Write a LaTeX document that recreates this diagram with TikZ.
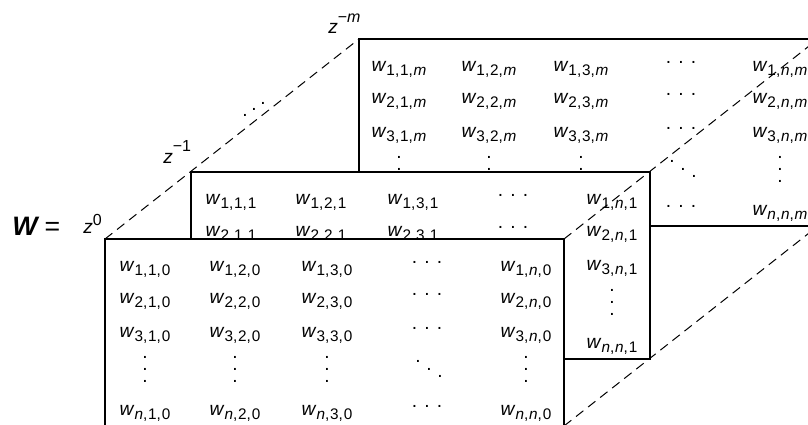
\documentclass[tikz,border=0pt]{standalone}
\usepackage{fontspec}
\setmainfont{Liberation Sans}

% entry w_{i,j,k} and delay labels z^{k}
\newcommand{\wsub}[3]{\textit{w}\raisebox{-3.7pt}{\fontsize{11.5}{12}\selectfont #1,\kern0.6pt#2,\kern0.6pt#3}}
\newcommand{\zsup}[2]{\textit{z}\raisebox{#2}{\fontsize{12}{13}\selectfont #1}}
% dots
\newcommand{\cdotsw}{\raisebox{6pt}{.\kern5.4pt.\kern5.4pt.}}
\newcommand{\vdotsw}{\vbox{\baselineskip=9pt\lineskiplimit=-20pt\hbox{.}\hbox{.}\hbox{.}}}
\newcommand{\ddotsw}{\raisebox{11pt}{.}\kern4.2pt\raisebox{5.5pt}{.}\kern4.2pt.}
\newcommand{\udotsw}{.\kern2.8pt\raisebox{4.5pt}{.}\kern2.8pt\raisebox{9pt}{.}}

\tikzset{
  entry/.style={inner sep=0pt, anchor=base, font=\fontsize{14.4}{17}\selectfont},
  dotentry/.style={inner sep=0pt, font=\fontsize{14.4}{17}\selectfont},
  layer/.style={draw, fill=white, line width=1pt, anchor=north west, inner sep=0pt,
    outer sep=0pt, minimum width=344.25pt, minimum height=140.25pt},
  depth/.style={dash pattern=on 7pt off 4.5pt, line width=0.75pt},
}

\begin{document}
\begin{tikzpicture}[x=0.75pt, y=-0.75pt]
    \useasboundingbox (0,0) rectangle (808,425);
    \clip (0,0) rectangle (808,425);

    % z^{-m}
    \begin{scope}[shift={(359,39)}]
        \node[layer] (back) at (0,0) {};
        \foreach \ir/\ri/\y in {1/1/32,2/2/64,3/3/98}
            \foreach \jc/\cj/\x in {1/1/40,2/2/130,3/3/222,n/{\textit{n}}/421}
                \node[entry] (back-\ir-\jc) at (\x,\y) {\wsub{\ri}{\cj}{\textit{m}}};
        \node[entry] (back-n-n) at (421,176) {\wsub{\textit{n}}{\textit{n}}{\textit{m}}};
        \foreach \ir/\y in {1/32,2/64,3/98,n/176}
            \node[entry] (back-\ir-d) at (322,\y) {\cdotsw};
        \foreach \jc/\x in {1/40,2/130,3/222,n/421}
            \node[dotentry] (back-v-\jc) at (\x,130) {\vdotsw};
        \node[dotentry] (back-v-d) at (324,130) {\ddotsw};
    \end{scope}

    % z^{-1}
    \begin{scope}[shift={(191,172)}]
        \node[layer] (mid) at (0,0) {};
        \foreach \ir/\ri/\y in {1/1/32,2/2/64}
            \foreach \jc/\cj/\x in {1/1/40,2/2/130,3/3/222,n/{\textit{n}}/421}
                \node[entry] (mid-\ir-\jc) at (\x,\y) {\wsub{\ri}{\cj}{1}};
        \foreach \ir/\ri/\y in {3/3/98,n/{\textit{n}}/176}
            \node[entry] (mid-\ir-n) at (421,\y) {\wsub{\ri}{\textit{n}}{1}};
        \foreach \ir/\y in {1/32,2/64}
            \node[entry] (mid-\ir-d) at (322,\y) {\cdotsw};
        \node[dotentry] (mid-v-n) at (421,130) {\vdotsw};
    \end{scope}

    % z^0
    \begin{scope}[shift={(105,239)}]
        \node[layer] (front) at (0,0) {};
        \foreach \ir/\ri/\y in {1/1/32,2/2/64,3/3/98,n/{\textit{n}}/176} {
            \foreach \jc/\cj/\x in {1/1/40,2/2/130,3/3/222,n/{\textit{n}}/421}
                \node[entry] (front-\ir-\jc) at (\x,\y) {\wsub{\ri}{\cj}{0}};
            \node[entry] (front-\ir-d) at (322,\y) {\cdotsw};
        }
        \foreach \jc/\x in {1/40,2/130,3/222,n/421}
            \node[dotentry] (front-v-\jc) at (\x,130) {\vdotsw};
        \node[dotentry] (front-v-d) at (324,130) {\ddotsw};
    \end{scope}

    % delay axis
    \draw[depth] (front.north west) -- (back.north west);
    \draw[depth] (front.north east) -- (back.north east);
    \draw[depth] (front.south east) -- (back.south east);

    % labels
    \node[anchor=base west, inner sep=0pt, font=\fontsize{20}{22}\selectfont] (wname) at (12,235) {\textbf{\textit{W}}\hspace{4pt}=};
    \node[entry, anchor=base west] (z0) at (83,233) {\zsup{0}{6pt}};
    \node[entry, anchor=base west] (z1) at (163,163) {\zsup{−1}{9pt}};
    \node[entry, anchor=base west] (zm) at (328,33) {\zsup{−\textit{m}}{8pt}};
    \node[dotentry] (zdots) at (254,109) {\udotsw};
\end{tikzpicture}
\end{document}
